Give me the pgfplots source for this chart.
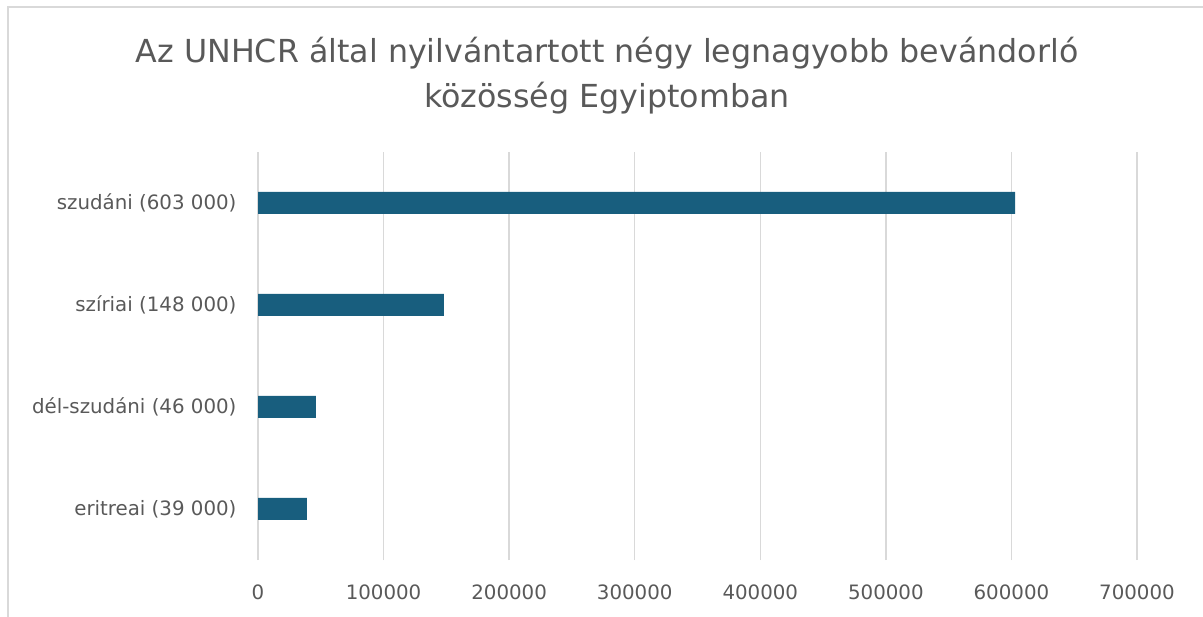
\documentclass[border=0pt]{standalone}
\usepackage{pgfplots}
\pgfplotsset{compat=1.18}
\usepackage{fontspec}
\setmainfont{DejaVu Sans}
\definecolor{barc}{HTML}{185E7E}
\definecolor{txt}{HTML}{595959}
\definecolor{gridc}{HTML}{D9D9D9}
\begin{document}
\begin{tikzpicture}
\path[use as bounding box] (0,0) rectangle (1203bp,617bp);
\draw[gridc, line width=1.5bp] (8bp,-2bp) -- (8bp,610bp) -- (1210bp,610bp);
\node[txt, font=\fontsize{31.7bp}{45bp}\selectfont, anchor=base, inner sep=0pt] at (607bp,554bp) {Az UNHCR által nyilvántartott négy legnagyobb bevándorló};
\node[txt, font=\fontsize{31.7bp}{45bp}\selectfont, anchor=base, inner sep=0pt] at (607bp,509bp) {közösség Egyiptomban};
\begin{axis}[
  at={(258bp,57bp)}, anchor=south west,
  scale only axis, width=879bp, height=408bp,
  xbar, bar width=22bp,
  xmin=0, xmax=700000,
  ymin=-0.5, ymax=3.5,
  ytick={0,1,2,3},
  yticklabels={eritreai (39 000), dél-szudáni (46 000), szíriai (148 000), szudáni (603 000)},
  xtick={0,100000,...,700000},
  scaled x ticks=false,
  /pgf/number format/.cd, fixed, 1000 sep={}, assume math mode=true, /pgfplots/.cd,
  xmajorgrids, grid style={gridc, line width=1.5bp},
  axis line style={draw=none},
  major tick length=0pt,
  tick label style={txt, font=\fontsize{19.8bp}{23bp}\selectfont},
  yticklabel style={xshift=-18bp},
  xticklabel style={yshift=-21bp},
  clip=false,
]
\addplot[fill=barc, draw=none] coordinates {(39000,0) (46000,1) (148000,2) (603000,3)};
\end{axis}
\end{tikzpicture}
\end{document}
